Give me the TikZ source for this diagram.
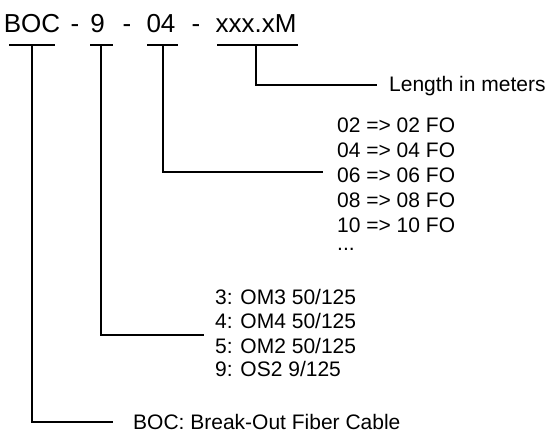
\documentclass[tikz,border=0pt]{standalone}
\usepackage{fontspec}
\setmainfont{Liberation Sans}
\begin{document}
\begin{tikzpicture}[x=1pt,y=-1pt,
  ttl/.style={inner sep=0pt,anchor=base,font=\fontsize{26}{31}\selectfont},
  lbl/.style={inner sep=0pt,anchor=base west,font=\fontsize{21}{25}\selectfont},
  conn/.style={line width=2pt}]
\useasboundingbox (0,0) rectangle (549,430);
% title parts
\node[ttl] (boc) at (32,33) {BOC};
\node[ttl] (d1) at (75,33) {-};
\node[ttl] (nine) at (97.5,33) {9};
\node[ttl] (d2) at (127,33) {-};
\node[ttl] (ofour) at (161,33) {04};
\node[ttl] (d3) at (196,33) {-};
\node[ttl] (len) at (256,33) {xxx.xM};
% underline coordinates
\coordinate (u1a) at (9,45); \coordinate (u1b) at (55,45); \coordinate (u1m) at (32,45);
\coordinate (u2a) at (90,45); \coordinate (u2b) at (113,45); \coordinate (u2m) at (101,45);
\coordinate (u3a) at (147,45); \coordinate (u3b) at (178,45); \coordinate (u3m) at (163,45);
\coordinate (u4a) at (217,45); \coordinate (u4b) at (298,45); \coordinate (u4m) at (256,45);
\draw[conn] (u1a) -- (u1b);
\draw[conn] (u2a) -- (u2b);
\draw[conn] (u3a) -- (u3b);
\draw[conn] (u4a) -- (u4b);
% labels
\node[lbl] (lm) at (389,92) {Length in meters};
\node[lbl] (f02) at (337,133) {02 => 02 FO};
\node[lbl] (f04) at (337,158) {04 => 04 FO};
\node[lbl] (f06) at (337,183) {06 => 06 FO};
\node[lbl] (f08) at (337,208) {08 => 08 FO};
\node[lbl] (f10) at (337,233) {10 => 10 FO};
\node[lbl] (fdots) at (337,251) {...};
\node[lbl] (t3) at (215,305) {3: OM3 50/125};
\node[lbl] (t4) at (215,329) {4: OM4 50/125};
\node[lbl] (t5) at (215,353) {5: OM2 50/125};
\node[lbl] (t9) at (215,377) {9: OS2 9/125};
\node[lbl] (bc) at (133,429) {BOC: Break-Out Fiber Cable};
% connectors
\coordinate (e4) at (377,85);
\coordinate (e3) at (323,172.5);
\coordinate (e2) at (204,335);
\coordinate (e1) at (113,422);
\draw[conn] (u4m) |- (e4);
\draw[conn] (u3m) |- (e3);
\draw[conn] (u2m) |- (e2);
\draw[conn] (u1m) |- (e1);
\end{tikzpicture}
\end{document}
